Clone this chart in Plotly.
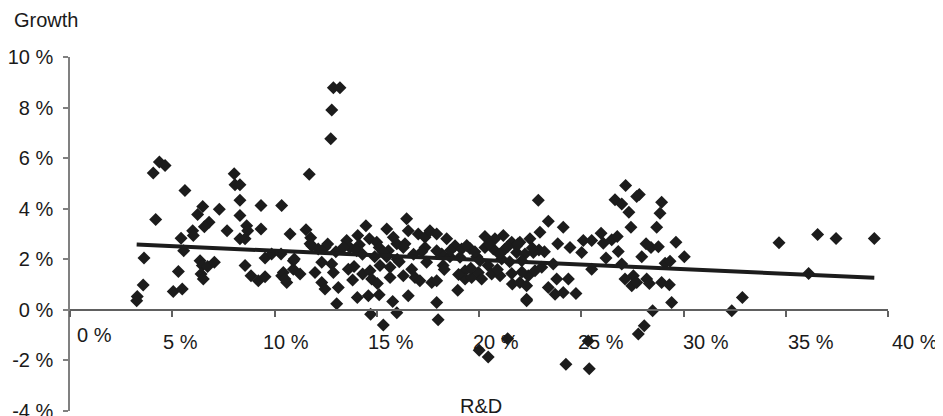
import plotly.graph_objects as go

# R&D intensity (%) and growth (%) per observation
rd = [
    4.37, 4.65, 4.07, 5.62, 4.19, 6.49, 6.24, 7.30, 6.80, 6.57, 6.00, 6.03, 5.43, 5.56, 3.62,
    7.68, 8.03, 8.07, 8.31, 8.31, 8.31, 8.64, 8.69, 8.31, 8.56, 9.34, 9.34, 10.35, 5.30, 3.58,
    3.29, 3.26, 5.05, 5.49, 6.36, 6.47, 6.73, 7.06, 6.41, 6.52, 8.56, 8.85, 9.21, 9.54, 9.54,
    9.86, 10.32, 10.35,
    10.43, 10.60, 10.92, 10.92, 11.25, 11.98, 12.31, 12.47, 13.12, 12.31, 12.80, 12.88, 11.74,
    12.14, 12.47, 11.70, 10.76, 11.54, 11.77, 11.82, 10.97, 10.51, 13.53, 13.69, 14.07, 14.15,
    14.47, 14.64, 15.00, 15.12, 15.49, 15.81, 15.98, 16.46, 16.54, 16.38, 16.30, 17.03, 17.36,
    17.60, 17.93, 17.36, 13.61, 13.89, 13.82, 14.31, 14.67, 14.75, 15.03, 15.12, 14.59, 14.05,
    15.16, 15.65, 15.65, 16.30, 16.71, 16.87, 17.11, 16.54, 17.44, 17.69, 17.93, 15.78, 15.98,
    14.70, 15.32, 17.93, 18.00, 15.57, 14.02, 13.36, 15.49, 13.04, 12.88, 13.20, 12.80, 12.75,
    22.90, 23.39, 24.12, 18.42, 18.83, 19.15, 19.56, 20.29, 20.78, 21.19, 21.60, 22.00, 22.49,
    22.98, 22.93, 23.85, 24.45, 25.10, 25.51, 25.02, 18.18, 18.58, 19.07, 19.89, 20.29, 20.70,
    21.27, 21.84, 22.25, 22.66, 17.93, 18.25, 19.32, 19.32, 19.64, 19.97, 20.13, 20.45, 20.62,
    21.03, 21.60, 21.63, 22.00, 22.33, 22.41, 22.74, 23.07, 23.63, 18.96, 22.33, 23.39, 23.80,
    23.72, 24.12, 24.37, 24.74, 25.51, 20.05, 21.11, 22.09, 21.84,
    20.01, 20.45, 21.40, 24.25, 25.34, 25.39, 27.79, 28.08, 28.49, 22.33, 29.42,
    27.17, 27.84, 27.71, 26.65, 26.98, 28.93, 28.85, 27.33, 27.43, 28.69, 25.97, 26.08, 26.49,
    26.76, 26.81, 26.21, 28.17, 28.41, 28.77, 29.63, 30.04, 27.96, 26.98, 29.10, 29.34, 27.14,
    27.55, 27.47, 27.71, 28.20, 28.33, 28.93, 29.31, 32.36, 32.88,
    34.67, 36.56, 37.46, 39.33, 36.12,
    14.30, 14.90, 15.30, 16.00, 16.80, 17.20, 18.60, 19.40, 19.80, 20.50, 21.00, 21.40,
    21.90, 22.60, 23.20, 19.00, 19.60, 20.90, 21.50, 22.10, 12.60, 13.00, 16.10, 18.30,
]
growth = [
    5.85, 5.71, 5.41, 4.72, 3.57, 4.09, 3.77, 3.98, 3.46, 3.29, 3.13, 2.94, 2.83, 2.34, 2.05,
    3.13, 5.38, 4.95, 4.95, 4.33, 3.73, 3.33, 3.13, 2.81, 2.81, 4.13, 3.20, 4.13, 1.52, 0.98,
    0.53, 0.36, 0.73, 0.82, 1.94, 1.75, 1.71, 1.88, 1.42, 1.22, 1.75, 1.35, 1.15, 1.31, 2.05,
    2.21, 2.21, 1.35,
    1.48, 1.08, 1.94, 1.61, 1.42, 1.48, 1.08, 0.82, 0.88, 1.88, 1.81, 1.48, 2.61,
    2.41, 2.47, 5.36, 3.00, 3.17, 2.85, 2.54, 2.01, 1.22, 2.74, 2.47, 2.94, 2.57,
    3.33, 2.81, 2.67, 2.47, 3.20, 2.87, 2.61, 3.60, 3.13, 2.61, 2.47, 3.00, 2.87,
    3.13, 3.00, 2.47, 1.61, 1.71, 1.18, 1.42, 1.55, 1.22, 1.04, 0.60, 0.56, 0.49,
    1.75, 1.68, 1.28, 1.35, 1.61, 1.28, 1.15, 0.56, 1.88, 1.08, 1.15, 0.33, -0.11,
    -0.17, -0.60, 0.29, -0.39, 2.34, 2.34, 2.47, 2.10, 0.24, 8.78, 8.78, 7.90, 6.77,
    4.33, 3.50, 3.27, 2.81, 2.54, 2.41, 2.43, 2.90, 2.81, 2.94, 2.67, 2.67, 2.81,
    3.07, 2.37, 2.61, 2.47, 2.74, 2.74, 2.27, 2.21, 2.10, 2.08, 2.10, 2.47, 2.41,
    2.41, 2.27, 2.21, 2.27, 2.34, 1.75, 1.55, 1.22, 1.28, 1.48, 1.22, 1.75, 1.42,
    1.35, 1.44, 1.02, 1.08, 0.95, 1.35, 1.55, 1.68, 1.81, 0.78, 0.42, 0.88, 1.22,
    0.62, 0.69, 1.22, 0.65, 1.61, 1.94, 2.01, 1.94, 2.54,
    -1.60, -1.87, -1.14, -2.15, -1.23, -2.33, -0.96, -0.63, -0.04, 0.36, 0.29,
    4.92, 4.56, 4.48, 4.35, 4.19, 4.26, 3.82, 3.86, 3.27, 3.27, 3.03, 2.63, 2.77,
    2.90, 2.31, 2.05, 2.61, 2.47, 2.50, 2.67, 2.10, 2.10, 1.81, 1.84, 1.92, 1.22,
    1.35, 0.95, 1.08, 1.22, 1.04, 1.08, 0.99, -0.04, 0.49,
    2.65, 2.98, 2.82, 2.82, 1.44,
    2.20, 2.10, 2.30, 2.00, 2.20, 2.30, 2.35, 2.55, 2.30, 2.60, 2.20, 2.50,
    2.60, 2.45, 2.30, 1.40, 1.65, 1.60, 1.90, 1.50, 2.60, 2.30, 1.90, 1.60,
]

# Linear trend line
trend_intercept = 2.70
trend_slope = -0.0363

x_ticks = [0, 5, 10, 15, 20, 25, 30, 35, 40]
x_tick_labels = ["0 %", "5 %", "10 %", "15 %", "20 %", "25 %", "30 %", "35 %", "40 %"]
y_ticks = [-4, -2, 0, 2, 4, 6, 8, 10]
y_tick_labels = ["-4 %", "-2 %", "0 %", "2 %", "4 %", "6 %", "8 %", "10 %"]

y_min, y_max = -4, 10
x_min, x_max = 0, 40

trend_x = [min(rd), max(rd)]
trend_y = [trend_intercept + trend_slope * v for v in trend_x]

FONT = "Liberation Sans, Arial, sans-serif"
TXT = "#1a1a1a"
FS = 20

# x tick labels are drawn as annotations (the source spreads them slightly
# wider than the tick marks and lifts the "0 %" label)
label_dx = [24, 8, 11, 14, 17, 20, 22, 25, 27]
label_dy = [-25, -32, -32, -32, -32, -32, -32, -32, -32]

fig = go.Figure()
fig.add_trace(go.Scatter(
    x=rd, y=growth, mode="markers",
    marker=dict(symbol="diamond", size=10, color="#1c1c1c", line=dict(width=0)),
    showlegend=False, hoverinfo="x+y",
))
fig.add_trace(go.Scatter(
    x=trend_x, y=trend_y, mode="lines",
    line=dict(color="#1c1c1c", width=4),
    showlegend=False, hoverinfo="skip",
))

annotations = [
    dict(text=t, xref="x", yref="y", x=v, y=0, xanchor="center", yanchor="middle",
         xshift=dx, yshift=dy, showarrow=False, font=dict(family=FONT, size=FS, color=TXT))
    for t, v, dx, dy in zip(x_tick_labels, x_ticks, label_dx, label_dy)
]
annotations += [
    dict(text="Growth", xref="paper", yref="paper", x=-0.0709, y=1.1045,
         xanchor="left", yanchor="middle", showarrow=False,
         font=dict(family=FONT, size=FS, color=TXT)),
    dict(text="R&D", xref="paper", yref="paper", x=0.5024, y=0.014,
         xanchor="center", yanchor="middle", showarrow=False,
         font=dict(family=FONT, size=FS, color=TXT)),
]

# the page body adds an 8px offset, so the figure is laid out 8px smaller
fig.update_layout(
    width=935, height=408,
    margin=dict(l=62, r=55, t=49, b=5),
    paper_bgcolor="white", plot_bgcolor="white",
    font=dict(family=FONT, size=FS, color=TXT),
    xaxis=dict(
        range=[x_min, x_max], tickvals=x_ticks, showticklabels=False,
        anchor="free", position=(0 - y_min) / (y_max - y_min),
        showline=True, linecolor="#606060", linewidth=1.5,
        ticks="outside", ticklen=6, tickcolor="#606060", tickwidth=1.5,
        showgrid=False, zeroline=False, automargin=False,
    ),
    yaxis=dict(
        range=[y_min - 0.001, y_max + 0.001], tickvals=y_ticks, ticktext=y_tick_labels,
        showline=True, linecolor="#808080", linewidth=1.5,
        ticks="outside", ticklen=5, tickcolor="#808080", tickwidth=1.5,
        showgrid=False, zeroline=False, ticklabelstandoff=6, automargin=False,
        ticklabeloverflow="allow",
    ),
    annotations=annotations,
)

fig.write_html("out.html")
